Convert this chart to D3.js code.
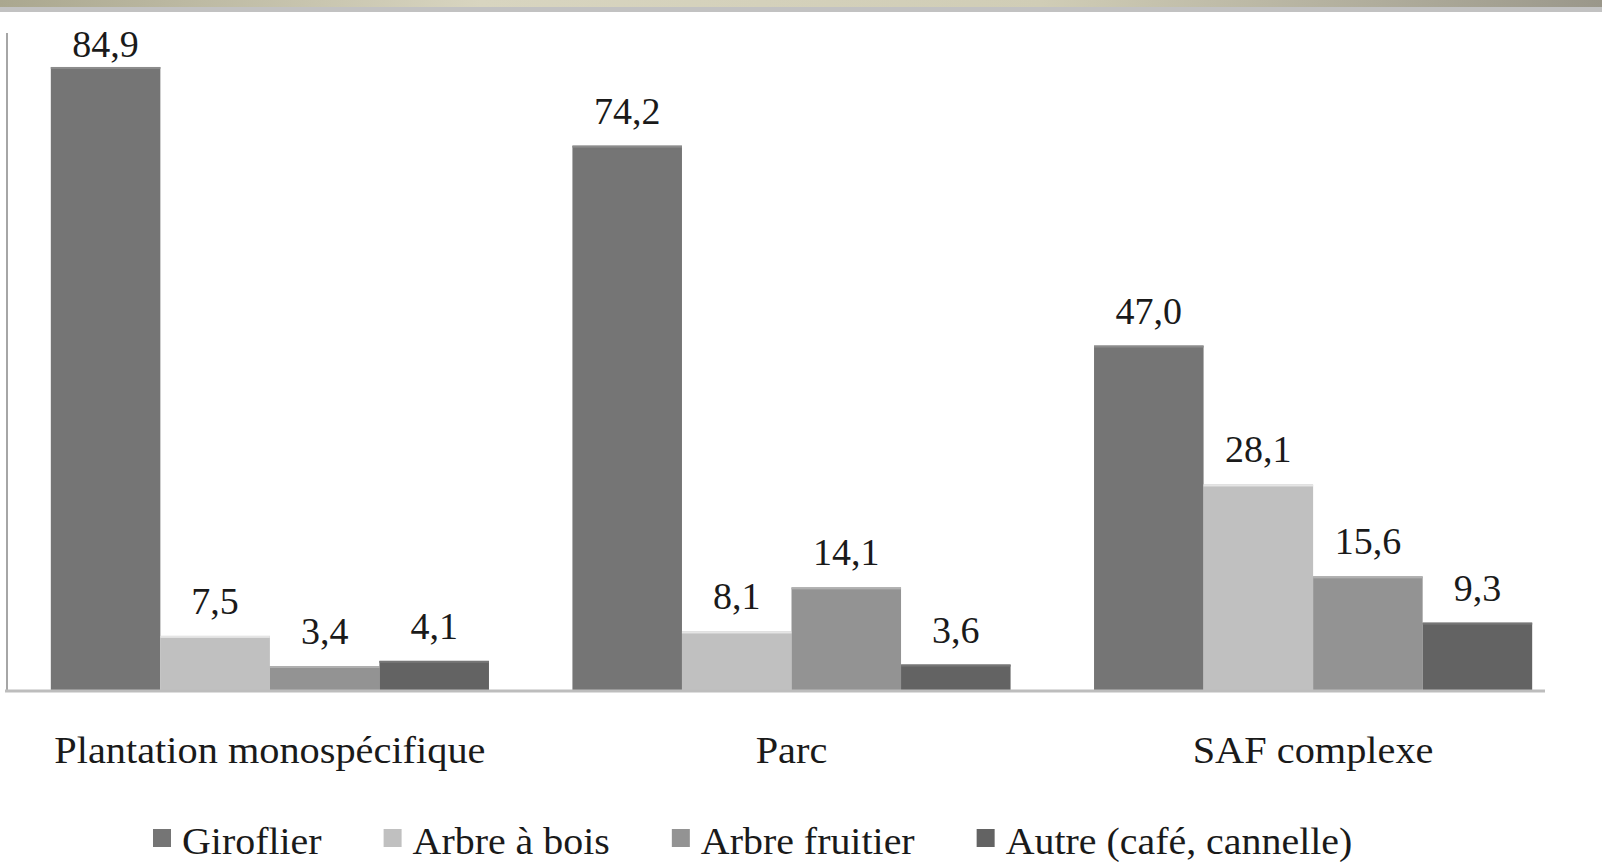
<!DOCTYPE html>
<html>
<head>
<meta charset="utf-8">
<script src="https://cdn.jsdelivr.net/npm/d3@7"></script>
<style>
  body { margin: 0; background: #fff; }
  svg { display: block; }
  text { font-family: "Liberation Serif", "DejaVu Serif", serif; fill: #1a1a1a; }
</style>
</head>
<body>
<div id="chart"></div>
<script>
// categories and series
var categories = ["Plantation monospécifique", "Parc", "SAF complexe"];
var series = ["Giroflier", "Arbre à bois", "Arbre fruitier", "Autre (café, cannelle)"];
var giroflier = [84.9, 74.2, 47.0];
var arbreBois = [7.5, 8.1, 28.1];
var arbreFruitier = [3.4, 14.1, 15.6];
var autre = [4.1, 3.6, 9.3];
var colors = ["#757575", "#c0c0c0", "#939393", "#636363"];

var values = [giroflier, arbreBois, arbreFruitier, autre];

var width = 1602, height = 862;

var svg = d3.select("#chart")
  .append("svg")
    .attr("width", width)
    .attr("height", height);

// top banner
var defs = svg.append("defs");
var grad = defs.append("linearGradient").attr("id", "band");
grad.append("stop").attr("offset", "0%").attr("stop-color", "#aaa78f");
grad.append("stop").attr("offset", "30%").attr("stop-color", "#d8d5c0");
grad.append("stop").attr("offset", "65%").attr("stop-color", "#d0cdb6");
grad.append("stop").attr("offset", "100%").attr("stop-color", "#9a978a");
svg.append("rect").attr("x", 0).attr("y", 0).attr("width", width).attr("height", 7)
  .attr("fill", "url(#band)");
svg.append("rect").attr("x", 0).attr("y", 7).attr("width", width).attr("height", 5)
  .attr("fill", "#c2c2c2");

// scales
var x0 = d3.scaleBand()
  .domain(categories)
  .range([7, 1576])
  .paddingInner(0.16)
  .paddingOuter(0.084);

var x1 = d3.scaleBand()
  .domain(series)
  .range([0, x0.bandwidth()]);

var y = d3.scaleLinear()
  .domain([0, 90])
  .range([691, 29.5]);

// y axis line
svg.append("line")
  .attr("x1", 7).attr("x2", 7)
  .attr("y1", 33).attr("y2", y(0))
  .attr("stroke", "#a6a6a6").attr("stroke-width", 2);

// bars
var rows = [];
categories.forEach(function(c, i) {
  series.forEach(function(s, j) {
    rows.push({ cat: c, ser: s, value: values[j][i], color: colors[j] });
  });
});

var g = svg.append("g");

g.selectAll(".bar")
  .data(rows)
  .enter().append("rect")
    .attr("class", "bar")
    .attr("x", function(d) { return x0(d.cat) + x1(d.ser); })
    .attr("width", x1.bandwidth())
    .attr("y", function(d) { return y(d.value); })
    .attr("height", function(d) { return y(0) - y(d.value); })
    .attr("fill", function(d) { return d.color; });

// light top edge on bars
g.selectAll(".edge")
  .data(rows)
  .enter().append("rect")
    .attr("x", function(d) { return x0(d.cat) + x1(d.ser); })
    .attr("width", x1.bandwidth())
    .attr("y", function(d) { return y(d.value); })
    .attr("height", 2)
    .attr("fill", function(d) { return d3.color(d.color).brighter(0.5); });

// baseline
svg.append("line")
  .attr("x1", 5).attr("x2", 1545)
  .attr("y1", y(0)).attr("y2", y(0))
  .attr("stroke", "#bdbdbd").attr("stroke-width", 3);

// value labels
var fmt = function(v) { return v.toFixed(1).replace(".", ","); };
g.selectAll(".val")
  .data(rows)
  .enter().append("text")
    .attr("x", function(d) { return x0(d.cat) + x1(d.ser) + x1.bandwidth() / 2; })
    .attr("y", function(d) { return Math.max(y(d.value) - 22, 57); })
    .attr("text-anchor", "middle")
    .style("font-size", "38px")
    .text(function(d) { return fmt(d.value); });

// stretch text a little wider, the original font is wider than Liberation Serif
function widen(sel, k) {
  sel.each(function() {
    var w = this.getComputedTextLength();
    d3.select(this).attr("textLength", w * k).attr("lengthAdjust", "spacingAndGlyphs")
      .attr("data-w", w * k);
  });
}

// category labels
svg.selectAll(".cat")
  .data(categories)
  .enter().append("text")
    .attr("x", function(d) { return x0(d) + x0.bandwidth() / 2; })
    .attr("y", 763)
    .attr("text-anchor", "middle")
    .style("font-size", "37px")
    .text(function(d) { return d; })
    .call(widen, 1.09);

// legend
var legend = svg.append("g");
var lx = 153;
series.forEach(function(s, j) {
  legend.append("rect")
    .attr("x", lx).attr("y", 829)
    .attr("width", 18).attr("height", 18)
    .attr("fill", colors[j]);
  var t = legend.append("text")
    .attr("x", lx + 29).attr("y", 854)
    .style("font-size", "38px")
    .text(s)
    .call(widen, 1.05);
  lx = lx + 29 + (+t.attr("data-w")) + 62;
});
</script>
</body>
</html>
